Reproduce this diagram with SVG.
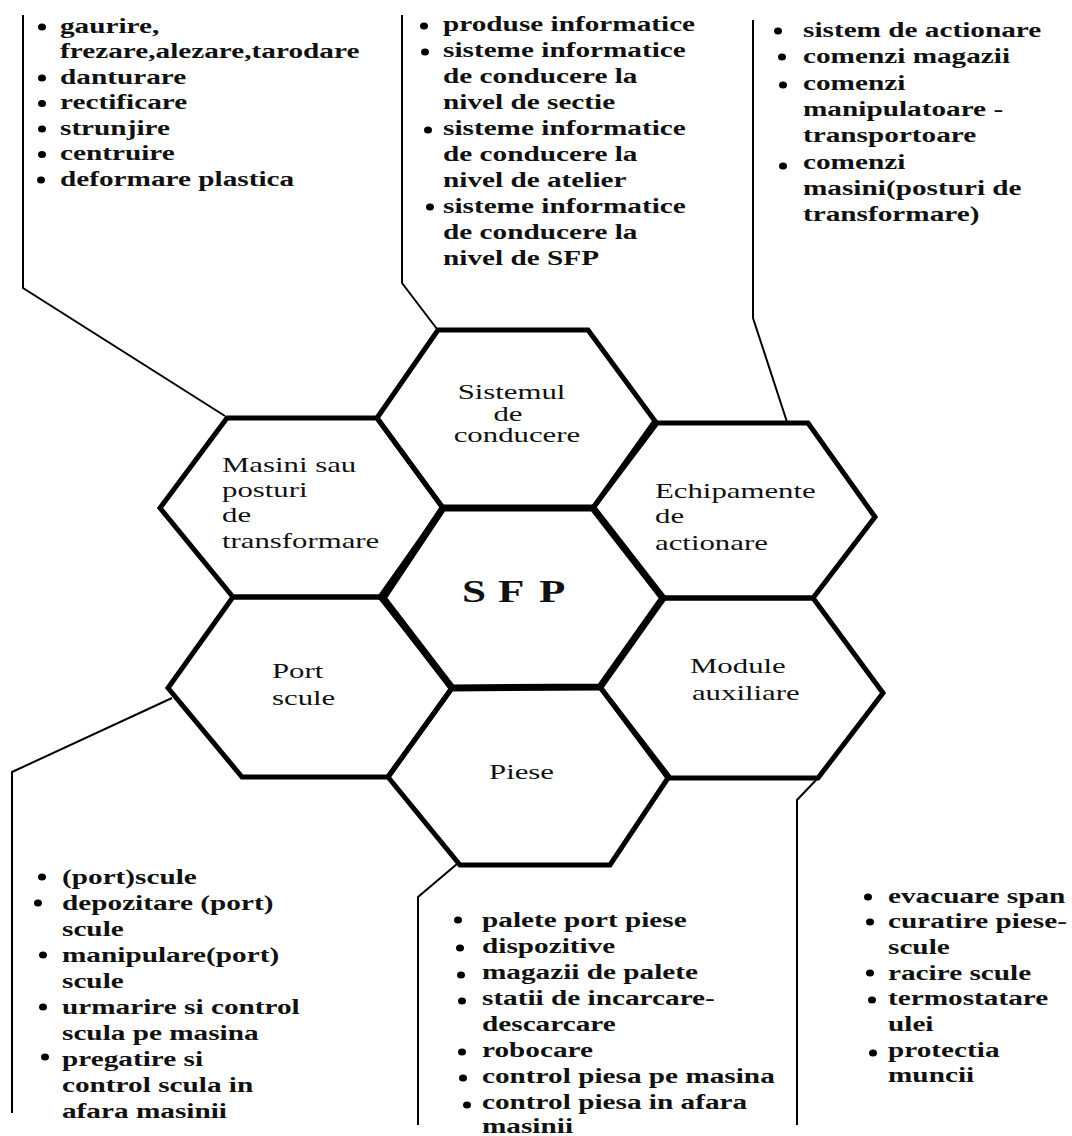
<svg xmlns="http://www.w3.org/2000/svg" width="1072" height="1136" viewBox="0 0 1072 1136">
  <style>
    .hex{fill:none;stroke:#000;stroke-width:5;stroke-linejoin:miter}
    .core{stroke-width:7}
    .lead{fill:none;stroke:#000;stroke-width:2}
    .lbl{font-family:"Liberation Serif","Times New Roman",serif;font-size:22px;fill:#111}
    .tight{font-size:20px}
    .big{font-family:"Liberation Serif","Times New Roman",serif;font-size:32px;font-weight:bold;fill:#111}
    .item{font-family:"Liberation Serif","Times New Roman",serif;font-size:22px;font-weight:bold;fill:#111}
    .dot{fill:#000}
  </style>
  <rect width="1072" height="1136" fill="#fff"/>

  <!-- leader lines from the cells to their lists -->
  <g id="connectors">
    <polyline class="lead" points="23,15 23,288 225,416"/>
    <polyline class="lead" points="402,15 402,283 437,329"/>
    <polyline class="lead" points="753,20 753,318 788,425"/>
    <polyline class="lead" points="172,698 12,772 12,1113"/>
    <polyline class="lead" points="457,864 418,897 418,1125"/>
    <polyline class="lead" points="818,778 797,800 797,1125"/>
  </g>

  <!-- honeycomb cells -->
  <g id="masini">
    <polygon class="hex" points="160,508 227,418 377,418 443,508 380,597 233,597"/>
    <g transform="translate(222,0) scale(1.4,1)">
      <text class="lbl"><tspan x="0" y="472">Masini sau</tspan><tspan x="0" y="497">posturi</tspan><tspan x="0" y="522.5">de</tspan><tspan x="0" y="548">transformare</tspan></text>
    </g>
  </g>

  <g id="sistemul">
    <polygon class="hex" points="377,418 438,330 588,330 655,421 593,508 443,508"/>
    <g transform="translate(512,0) scale(1.54,1)">
      <text class="lbl tight" text-anchor="middle"><tspan x="-0.3" y="399">Sistemul</tspan><tspan x="-2.6" y="421">de</tspan><tspan x="3.2" y="442">conducere</tspan></text>
    </g>
  </g>

  <g id="echipamente">
    <polygon class="hex" points="593,508 657,423 808,423 875,517 813,598 663,598"/>
    <g transform="translate(655,0) scale(1.4,1)">
      <text class="lbl"><tspan x="0" y="498">Echipamente</tspan><tspan x="0" y="523">de</tspan><tspan x="0" y="550">actionare</tspan></text>
    </g>
  </g>

  <g id="module">
    <polygon class="hex" points="600,687 663,598 813,598 883,693 818,778 670,778"/>
    <g transform="translate(690,0) scale(1.4,1)">
      <text class="lbl"><tspan x="0" y="673">Module</tspan><tspan x="1.4" y="700">auxiliare</tspan></text>
    </g>
  </g>

  <g id="piese">
    <polygon class="hex" points="388,777 452,688 600,687 668,778 610,865 460,865"/>
    <g transform="translate(521.5,0) scale(1.4,1)">
      <text class="lbl" text-anchor="middle" x="0" y="779">Piese</text>
    </g>
  </g>

  <g id="port">
    <polygon class="hex" points="168,688 233,597 380,597 452,688 388,777 242,777"/>
    <g transform="translate(272,0) scale(1.4,1)">
      <text class="lbl"><tspan x="0" y="678">Port</tspan><tspan x="0" y="705">scule</tspan></text>
    </g>
  </g>

  <g id="sfp">
    <polygon class="hex core" points="383,598 443,508 593,508 663,598 600,687 452,688"/>
    <g transform="translate(462,0) scale(1.35,1)">
      <text class="big"><tspan x="0" y="602">S</tspan><tspan x="26.7" y="602">F</tspan><tspan x="57" y="602">P</tspan></text>
    </g>
  </g>

  <!-- lists attached to each cell -->
  <g id="list-masini">
    <g class="dot"><ellipse cx="42" cy="27" rx="4" ry="3.5"/><ellipse cx="42" cy="78" rx="4" ry="3.5"/><ellipse cx="42" cy="103.5" rx="4" ry="3.5"/><ellipse cx="42" cy="129" rx="4" ry="3.5"/><ellipse cx="42" cy="154.5" rx="4" ry="3.5"/><ellipse cx="41" cy="180" rx="4" ry="3.5"/></g>
    <g transform="translate(60,0) scale(1.33,1)">
      <text class="item"><tspan x="0" y="33">gaurire,</tspan><tspan x="0" y="58.5">frezare,alezare,tarodare</tspan><tspan x="0" y="84">danturare</tspan><tspan x="0" y="109.5">rectificare</tspan><tspan x="0" y="135">strunjire</tspan><tspan x="0" y="160.5">centruire</tspan><tspan x="0" y="186">deformare plastica</tspan></text>
    </g>
  </g>

  <g id="list-sistemul">
    <g class="dot"><ellipse cx="424" cy="26" rx="4" ry="3.5"/><ellipse cx="425" cy="52" rx="4" ry="3.5"/><ellipse cx="428" cy="130" rx="4" ry="3.5"/><ellipse cx="430" cy="207" rx="4" ry="3.5"/></g>
    <g transform="translate(443,0) scale(1.33,1)">
      <text class="item"><tspan x="0" y="31">produse informatice</tspan><tspan x="0" y="57">sisteme informatice</tspan><tspan x="0" y="83">de conducere la</tspan><tspan x="0" y="109">nivel de sectie</tspan><tspan x="0" y="135">sisteme informatice</tspan><tspan x="0" y="161">de conducere la</tspan><tspan x="0" y="187">nivel de atelier</tspan><tspan x="0" y="213">sisteme informatice</tspan><tspan x="0" y="239">de conducere la</tspan><tspan x="0" y="265">nivel de SFP</tspan></text>
    </g>
  </g>

  <g id="list-echipamente">
    <g class="dot"><ellipse cx="778" cy="31" rx="4" ry="3.5"/><ellipse cx="782" cy="57" rx="4" ry="3.5"/><ellipse cx="783" cy="85" rx="4" ry="3.5"/><ellipse cx="783" cy="166" rx="4" ry="3.5"/></g>
    <g transform="translate(803,0) scale(1.33,1)">
      <text class="item"><tspan x="0" y="37">sistem de actionare</tspan><tspan x="0" y="63">comenzi magazii</tspan><tspan x="0" y="90">comenzi</tspan><tspan x="0" y="116">manipulatoare -</tspan><tspan x="0" y="142">transportoare</tspan><tspan x="0" y="169">comenzi</tspan><tspan x="0" y="195">masini(posturi de</tspan><tspan x="0" y="221">transformare)</tspan></text>
    </g>
  </g>

  <g id="list-port">
    <g class="dot"><ellipse cx="42" cy="877" rx="4" ry="3.5"/><ellipse cx="38" cy="903" rx="4" ry="3.5"/><ellipse cx="43" cy="955" rx="4" ry="3.5"/><ellipse cx="43" cy="1007" rx="4" ry="3.5"/><ellipse cx="45" cy="1057" rx="4" ry="3.5"/></g>
    <g transform="translate(62,0) scale(1.33,1)">
      <text class="item"><tspan x="0" y="884">(port)scule</tspan><tspan x="0" y="910">depozitare (port)</tspan><tspan x="0" y="936">scule</tspan><tspan x="0" y="962">manipulare(port)</tspan><tspan x="0" y="988">scule</tspan><tspan x="0" y="1014">urmarire si control</tspan><tspan x="0" y="1040">scula pe masina</tspan><tspan x="0" y="1066">pregatire si</tspan><tspan x="0" y="1092">control scula in</tspan><tspan x="0" y="1118">afara masinii</tspan></text>
    </g>
  </g>

  <g id="list-piese">
    <g class="dot"><ellipse cx="458" cy="920" rx="4" ry="3.5"/><ellipse cx="460" cy="948" rx="4" ry="3.5"/><ellipse cx="461" cy="975" rx="4" ry="3.5"/><ellipse cx="462" cy="1001" rx="4" ry="3.5"/><ellipse cx="462" cy="1052" rx="4" ry="3.5"/><ellipse cx="463" cy="1078" rx="4" ry="3.5"/><ellipse cx="467" cy="1105" rx="4" ry="3.5"/></g>
    <g transform="translate(482,0) scale(1.33,1)">
      <text class="item"><tspan x="0" y="927">palete port piese</tspan><tspan x="0" y="953">dispozitive</tspan><tspan x="0" y="979">magazii de palete</tspan><tspan x="0" y="1005">statii de incarcare-</tspan><tspan x="0" y="1031">descarcare</tspan><tspan x="0" y="1057">robocare</tspan><tspan x="0" y="1083">control piesa pe masina</tspan><tspan x="0" y="1109">control piesa in afara</tspan><tspan x="0" y="1133">masinii</tspan></text>
    </g>
  </g>

  <g id="list-module">
    <g class="dot"><ellipse cx="868" cy="897" rx="4" ry="3.5"/><ellipse cx="870" cy="922" rx="4" ry="3.5"/><ellipse cx="870" cy="973" rx="4" ry="3.5"/><ellipse cx="872" cy="1000" rx="4" ry="3.5"/><ellipse cx="873" cy="1053" rx="4" ry="3.5"/></g>
    <g transform="translate(888,0) scale(1.33,1)">
      <text class="item"><tspan x="0" y="903">evacuare span</tspan><tspan x="0" y="928.5">curatire piese-</tspan><tspan x="0" y="954">scule</tspan><tspan x="0" y="980">racire scule</tspan><tspan x="0" y="1005.5">termostatare</tspan><tspan x="0" y="1031">ulei</tspan><tspan x="0" y="1057">protectia</tspan><tspan x="0" y="1082.5">muncii</tspan></text>
    </g>
  </g>
</svg>
